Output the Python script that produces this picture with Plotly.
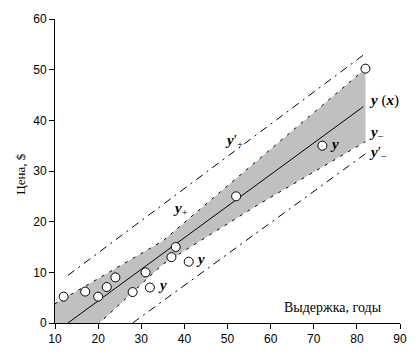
import plotly.graph_objects as go

# Observed points (age, price)
age = [12, 17, 20, 22, 24, 28, 31, 32, 37, 38, 41, 52, 72, 82]
price = [5.2, 6.2, 5.2, 7.1, 9.0, 6.1, 10.0, 7.0, 13.0, 15.0, 12.1, 25.0, 35.0, 50.2]

# Regression line y(x) endpoints
reg_x = [13, 81.5]
reg_y = [0, 42.7]

# Gray band (y+ upper edge, y- lower edge)
band_up_x = [10, 35, 51, 82]
band_up_y = [3.8, 16.2, 27.8, 50.2]
band_lo_x = [10, 20.3, 35, 57, 82]
band_lo_y = [-7.0, 0.0, 11.6, 23.3, 35.8]

# Outer dash-dot lines y'+ and y'-
outer_up_x = [13, 82]
outer_up_y = [9.4, 53.2]
outer_lo_x = [28, 82]
outer_lo_y = [0, 33.4]

x_ticks = [10, 20, 30, 40, 50, 60, 70, 80, 90]
y_ticks = [0, 10, 20, 30, 40, 50, 60]

fig = go.Figure()

poly_x = band_up_x + band_lo_x[::-1]
poly_y = band_up_y + band_lo_y[::-1]
fig.add_trace(go.Scatter(x=poly_x, y=poly_y, fill="toself", fillcolor="#c0c0c0",
                         line=dict(width=0), mode="lines", hoverinfo="skip"))
fig.add_trace(go.Scatter(x=band_up_x, y=band_up_y, mode="lines",
                         line=dict(color="black", width=1, dash="3px,6px")))
fig.add_trace(go.Scatter(x=band_lo_x, y=band_lo_y, mode="lines",
                         line=dict(color="black", width=1, dash="3px,6px")))
fig.add_trace(go.Scatter(x=outer_up_x, y=outer_up_y, mode="lines",
                         line=dict(color="black", width=1, dash="8px,5px,2px,5px")))
fig.add_trace(go.Scatter(x=outer_lo_x, y=outer_lo_y, mode="lines",
                         line=dict(color="black", width=1, dash="8px,5px,2px,5px")))
fig.add_trace(go.Scatter(x=reg_x, y=reg_y, mode="lines",
                         line=dict(color="black", width=1)))
fig.add_trace(go.Scatter(x=age, y=price, mode="markers",
                         marker=dict(size=9, color="white",
                                     line=dict(color="black", width=1))))

lab_font = dict(family="Liberation Serif, Times New Roman, serif", size=15, color="black")
labels = [
    (82.3, 44, "<b><i>y</i></b> (<b><i>x</i></b>)"),
    (82.3, 37.5, "<b><i>y</i></b><sub>−</sub>"),
    (82.3, 33.5, "<b><i>y</i></b>′<sub>−</sub>"),
    (49, 36, "<b><i>y</i></b>′<sub>+</sub>"),
    (37, 22.5, "<b><i>y</i></b><sub>+</sub>"),
    (73.2, 35.3, "<b><i>y</i></b>"),
    (42.3, 12.6, "<b><i>y</i></b>"),
    (33.4, 7.5, "<b><i>y</i></b>"),
]
for lx, ly, t in labels:
    fig.add_annotation(x=lx, y=ly, text=t, showarrow=False, xanchor="left",
                       yanchor="middle", font=lab_font)

fig.add_annotation(x=86.3, y=3, text="Выдержка, годы", showarrow=False,
                   xanchor="right", yanchor="middle",
                   font=dict(family="Liberation Serif, Times New Roman, serif", size=14, color="black"))
fig.add_annotation(xref="paper", yref="paper", x=-0.13, y=0.49, text="Цена, $",
                   textangle=-90, showarrow=False,
                   font=dict(family="Liberation Serif, Times New Roman, serif", size=13, color="black"))

tick_font = dict(family="Liberation Sans Narrow, Arial Narrow, Liberation Sans, sans-serif",
                 size=12, color="black")
fig.update_xaxes(range=[10, 90], tickvals=x_ticks, showgrid=False, zeroline=False,
                 showline=True, linecolor="black", linewidth=1, ticks="outside",
                 ticklen=5, tickcolor="black", tickfont=tick_font)
fig.update_yaxes(range=[0, 60], tickvals=y_ticks, showgrid=False, zeroline=False,
                 showline=True, linecolor="black", linewidth=1, ticks="outside",
                 ticklen=5, tickcolor="black", tickfont=tick_font)

fig.update_layout(width=419, height=361, showlegend=False,
                  plot_bgcolor="white", paper_bgcolor="white",
                  margin=dict(l=55, r=17, t=15, b=38))

fig.write_html("out.html", config={"displayModeBar": False},
               post_script="document.body.style.margin='0';"
                           "document.documentElement.style.overflow='hidden';")
